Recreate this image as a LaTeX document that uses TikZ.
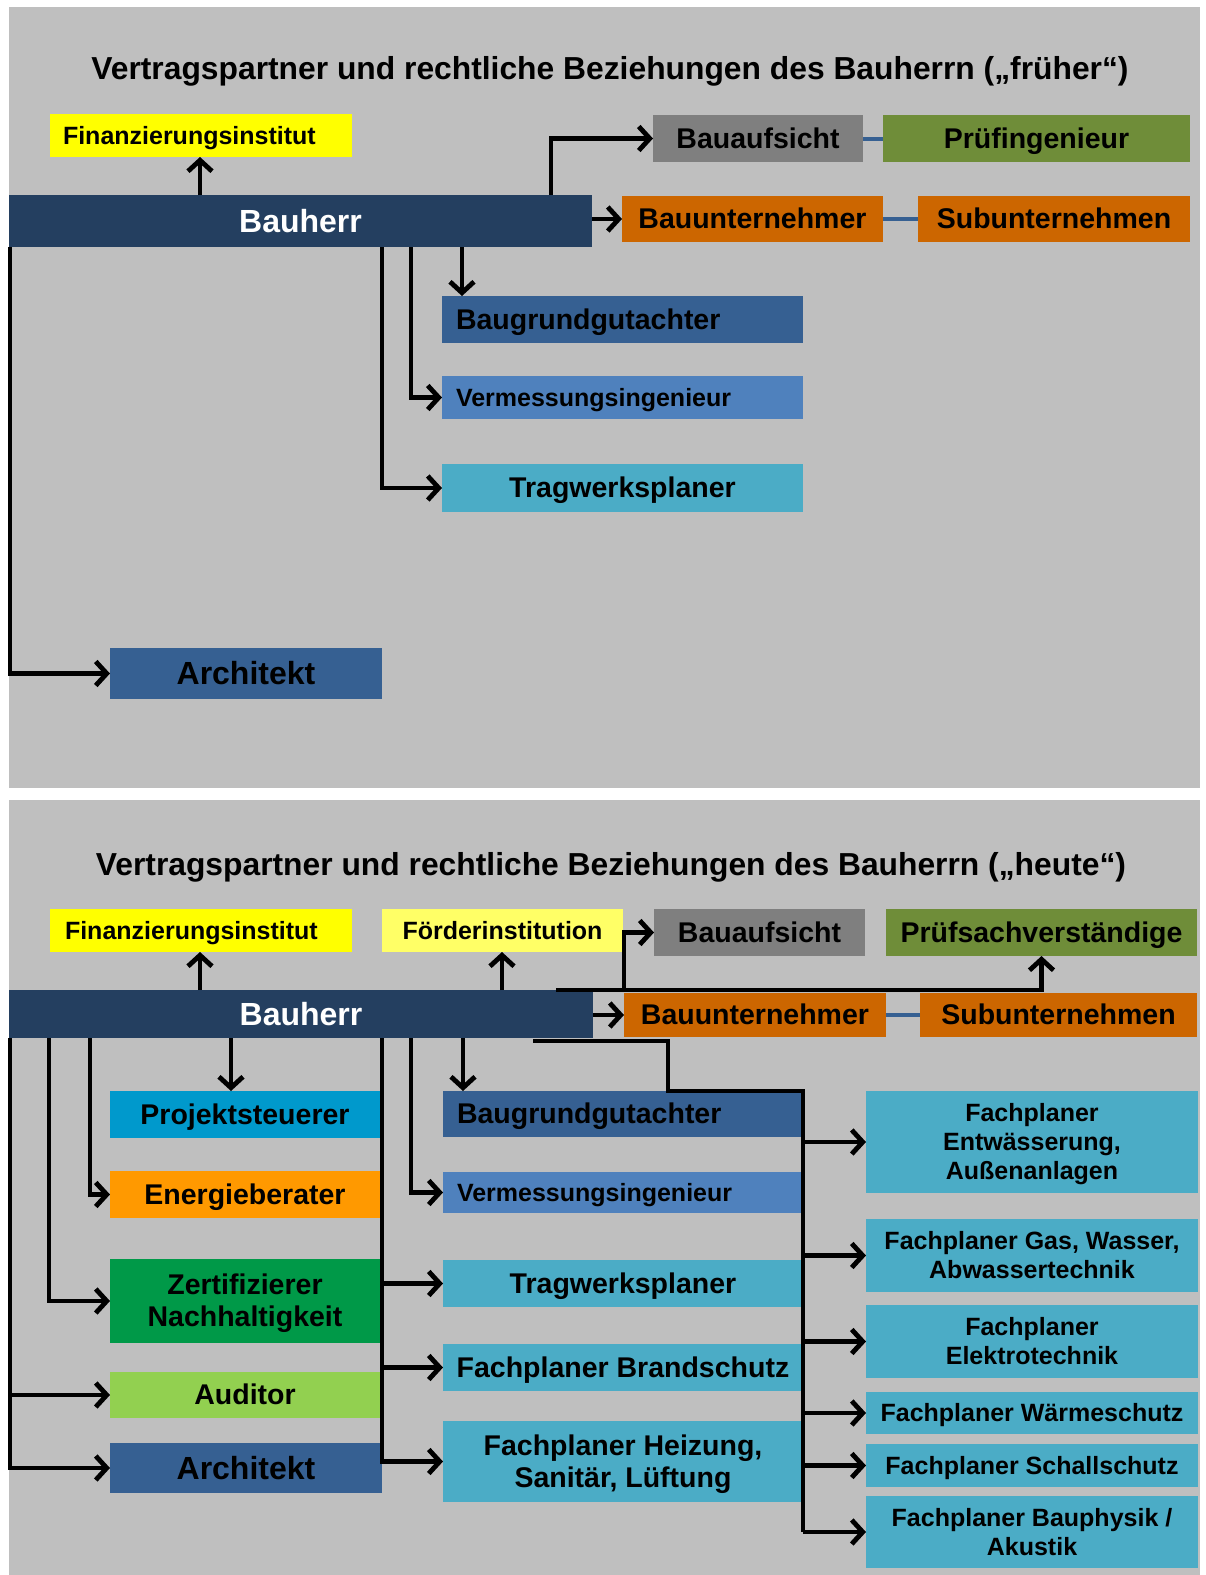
\documentclass[tikz,border=0pt]{standalone}
\usepackage{fontspec}
\setmainfont{Liberation Sans}
\usetikzlibrary{arrows.meta}
\definecolor{panel}{RGB}{191,191,191}
\definecolor{cnavy}{RGB}{36,63,96}
\definecolor{cyel}{RGB}{255,255,0}
\definecolor{cyelb}{RGB}{255,255,102}
\definecolor{cgray}{RGB}{127,127,127}
\definecolor{colive}{RGB}{111,141,57}
\definecolor{corange}{RGB}{204,102,0}
\definecolor{cblueA}{RGB}{54,96,146}
\definecolor{cblueB}{RGB}{79,129,189}
\definecolor{cteal}{RGB}{75,172,198}
\definecolor{cproj}{RGB}{0,153,204}
\definecolor{cener}{RGB}{255,153,0}
\definecolor{cgreen}{RGB}{0,153,72}
\definecolor{caud}{RGB}{146,208,80}
\newcommand\st{\rule[-0.212em]{0pt}{1.117em}}
\newcommand\bx[7][]{\node[bx,minimum width={(#5-#3)*1pt},minimum height={(#6-#4)*1pt},#1] (#2) at ({(#3+#5)/2},{(#4+#6)/2}) {#7};}
\tikzset{
  bx/.style={inner sep=0pt, outer sep=0pt, align=center, text=black},
  leftal/.style={align=left, text width=#1},
  fA/.style={font=\fontsize{25}{29}\selectfont\bfseries},
  fB/.style={font=\fontsize{28.5}{32}\selectfont\bfseries},
  fC/.style={font=\fontsize{32}{36}\selectfont\bfseries},
  fD/.style={font=\fontsize{32}{36}\selectfont\bfseries},
  ttl/.style={font=\fontsize{31.8}{36}\selectfont\bfseries, inner sep=0pt, anchor=base},
  arr/.style={line width=4.8pt, -{Straight Barb[length=11pt,width=24pt]}},
  ln/.style={line width=4.8pt},
  blk/.style={line width=4pt, cblueA}
}
\begin{document}
\begin{tikzpicture}[x=1pt,y=-1pt]
\useasboundingbox (0,0) rectangle (1206,1575);
\fill[white] (0,0) rectangle (1206,1575);
\fill[panel] (9,7) rectangle (1200,788);
\fill[panel] (9,800) rectangle (1200,1575);
% column coordinates
\foreach \c in {10,49,90,200,231,382,411,462,463,502,533,551,556,624,668}{\coordinate (c\c) at (\c,0);}
% ---------------- upper panel ----------------
\node[ttl] (t1) at (610,79) {Vertragspartner und rechtliche Beziehungen des Bauherrn („früher“)};
\bx[fill=cyel,fA,leftal=276pt]{fin}{50}{114}{352}{157}{\st Finanzierungsinstitut}
\bx[fill=cnavy,fC,text=white]{bh}{9}{195}{592}{247}{\st Bauherr}
\bx[fill=cgray,fB]{ba}{653}{115}{863}{162}{\st Bauaufsicht}
\bx[fill=colive,fB]{pi}{883}{115}{1190}{162}{\st Prüfingenieur}
\bx[fill=corange,fB]{bu}{622}{196}{883}{242}{\st Bauunternehmer}
\bx[fill=corange,fB]{su}{918}{196}{1190}{242}{\st Subunternehmen}
\bx[fill=cblueA,fB,leftal=333pt]{bg}{442}{296}{803}{343}{\st Baugrundgutachter}
\bx[fill=cblueB,fA,leftal=333pt]{vm}{442}{376}{803}{419}{\st Vermessungsingenieur}
\bx[fill=cteal,fB]{tw}{442}{464}{803}{512}{\st Tragwerksplaner}
\bx[fill=cblueA,fD]{ar}{110}{648}{382}{699}{\st Architekt}
\draw[arr] (bh.north -| c200) -- (fin.south -| c200);
\draw[arr] (bh.north -| c551) |- (ba.west);
\draw[arr] (bh.east |- bu.west) -- (bu.west);
\draw[blk] (ba.east) -- (pi.west);
\draw[blk] (bu.east) -- (su.west);
\draw[arr] (bh.south -| c462) -- (bg.north -| c462);
\draw[arr] (bh.south -| c411) |- (vm.west);
\draw[arr] (bh.south -| c382) |- (tw.west);
\draw[arr] (bh.south -| c10) |- (ar.west);
% ---------------- lower panel ----------------
\node[ttl] (t2) at (611,875) {Vertragspartner und rechtliche Beziehungen des Bauherrn („heute“)};
\bx[fill=cyel,fA,leftal=272pt]{finb}{50}{909}{352}{952}{\st Finanzierungsinstitut}
\bx[fill=cyelb,fA]{foe}{382}{909}{623}{952}{\st Förderinstitution}
\bx[fill=cgray,fB]{bab}{654}{909}{865}{956}{\st Bauaufsicht}
\bx[fill=colive,fB]{ps}{886}{909}{1197}{956}{\st Prüfsachverständige}
\bx[fill=cnavy,fC,text=white]{bhb}{9}{990}{593}{1038}{\st Bauherr}
\bx[fill=corange,fB]{bub}{624}{993}{886}{1037}{\st Bauunternehmer}
\bx[fill=corange,fB]{sub}{920}{993}{1197}{1037}{\st Subunternehmen}
% left column
\bx[fill=cproj,fB]{pj}{110}{1091}{380}{1138}{\st Projektsteuerer}
\bx[fill=cener,fB]{eb}{110}{1171}{380}{1218}{\st Energieberater}
\bx[fill=cgreen,fB]{zn}{110}{1259}{380}{1343}{\st Zertifizierer\\\st Nachhaltigkeit}
\bx[fill=caud,fB]{au}{110}{1372}{380}{1418}{\st Auditor}
\bx[fill=cblueA,fD]{arb}{110}{1443}{382}{1493}{\st Architekt}
% middle column
\bx[fill=cblueA,fB,leftal=332pt]{bgb}{443}{1091}{803}{1137}{\st Baugrundgutachter}
\bx[fill=cblueB,fA,leftal=332pt]{vmb}{443}{1172}{803}{1213}{\st Vermessungsingenieur}
\bx[fill=cteal,fB]{twb}{443}{1260}{803}{1307}{\st Tragwerksplaner}
\bx[fill=cteal,fB]{fb}{443}{1344}{803}{1391}{\st Fachplaner Brandschutz}
\bx[fill=cteal,fB]{fh}{443}{1421}{803}{1502}{\st Fachplaner Heizung,\\\st Sanitär, Lüftung}
% right column
\bx[fill=cteal,fA]{fa}{866}{1091}{1198}{1193}{\st Fachplaner\\\st Entwässerung,\\\st Außenanlagen}
\bx[fill=cteal,fA]{fc}{866}{1219}{1198}{1292}{\st Fachplaner Gas, Wasser,\\\st Abwassertechnik}
\bx[fill=cteal,fA]{fd}{866}{1305}{1198}{1378}{\st Fachplaner\\\st Elektrotechnik}
\bx[fill=cteal,fA]{fe}{866}{1392}{1198}{1434}{\st Fachplaner Wärmeschutz}
\bx[fill=cteal,fA]{ff}{866}{1444}{1198}{1487}{\st Fachplaner Schallschutz}
\bx[fill=cteal,fA]{fg}{866}{1496}{1198}{1568}{\st Fachplaner Bauphysik /\\\st Akustik}
% connectors
\draw[arr] (bhb.north -| c200) -- (finb.south -| c200);
\draw[arr] (bhb.north -| c502) -- (foe.south -| c502);
\draw[arr] (bhb.north -| c624) |- (bab.west);
\draw[arr] (bhb.north -| c556) -| (ps.south);
\draw[arr] (bhb.east |- bub.west) -- (bub.west);
\draw[blk] (bub.east) -- (sub.west);
\draw[arr] (bhb.south -| c231) -- (pj.north -| c231);
\draw[arr] (bhb.south -| c90) |- (eb.west);
\draw[arr] (bhb.south -| c49) |- (zn.west);
\draw[arr] (bhb.south -| c10) |- (au.west);
\draw[arr] (bhb.south -| c10) |- (arb.west);
\draw[arr] (bhb.south -| c463) -- (bgb.north -| c463);
\draw[arr] (bhb.south -| c411) |- (vmb.west);
\draw[arr] (bhb.south -| c382) |- (twb.west);
\draw[arr] (bhb.south -| c382) |- (fb.west);
\draw[arr] (bhb.south -| c382) |- (fh.west);
\draw[ln] ([yshift=-3pt]bhb.south -| c533) -| (bgb.north -| c668) -- (bgb.north east) -- (bgb.east |- fg.west);
\foreach \f in {fa,fc,fd,fe,ff,fg}{\draw[arr] (bgb.east |- \f.west) -- (\f.west);}
\end{tikzpicture}
\end{document}
